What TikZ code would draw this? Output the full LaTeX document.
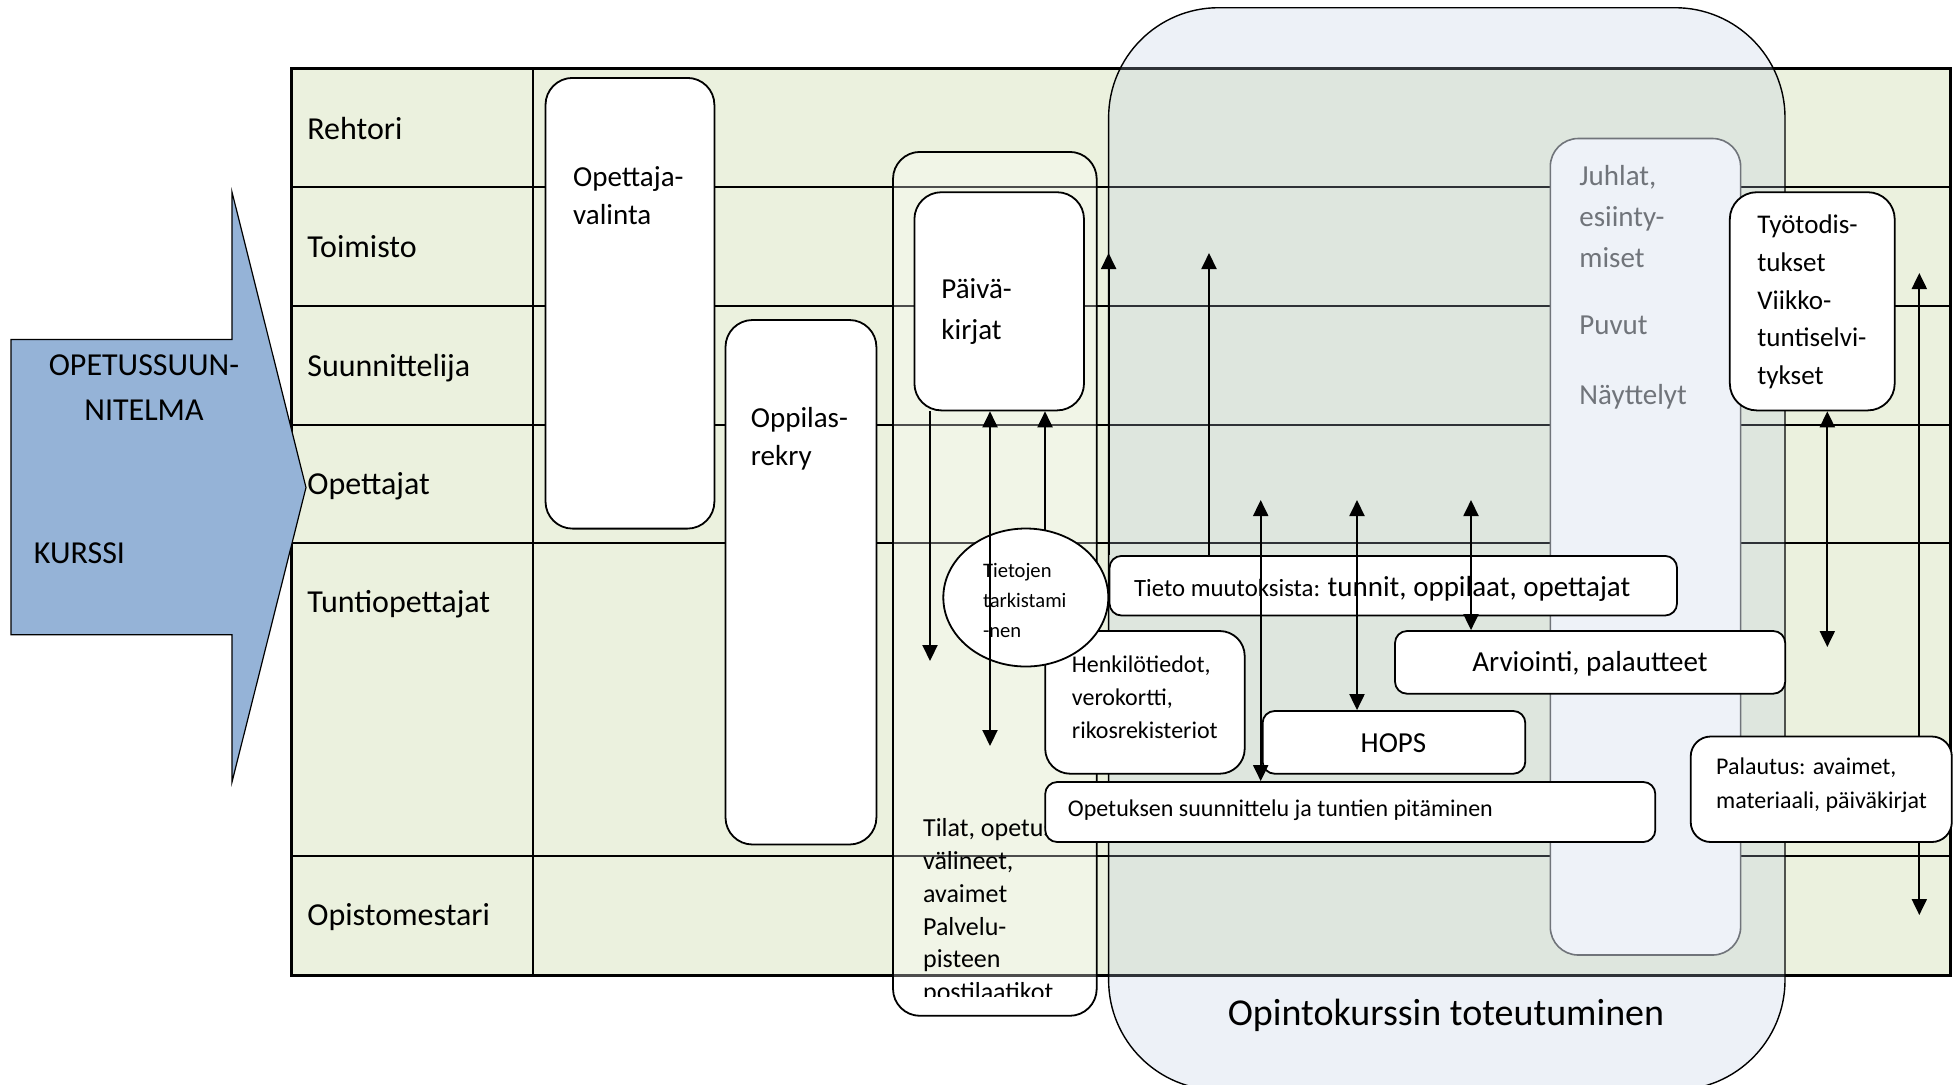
\documentclass[tikz,border=0pt]{standalone}
\usepackage{fontspec}
\setmainfont{Carlito}
\usetikzlibrary{arrows.meta,fit,shapes.geometric}
\definecolor{lanegreen}{RGB}{235,241,222}
\definecolor{arrowblue}{RGB}{149,179,215}
\definecolor{courseblue}{RGB}{185,200,222}
\definecolor{juhlafill}{RGB}{238,242,248}
\definecolor{juhlagray}{RGB}{112,116,122}
\newcommand\setfs[2]{\fontsize{#1}{#2}\selectfont}
\begin{document}
\begin{tikzpicture}[x=0.5pt,y=-0.5pt,
    box/.style={draw,fill=white,line width=0.9pt,inner sep=0pt},
    tallbox/.style={box,rounded corners=13.5pt},
    flatbox/.style={box,rounded corners=6pt},
    txt/.style={anchor=base west,inner sep=0pt,align=left},
    lanetext/.style={txt,font=\setfs{16}{19}},
    flow/.style={line width=1pt,-{Triangle[length=8pt,width=7.5pt]}},
    flowboth/.style={line width=1pt,{Triangle[length=8pt,width=7.5pt]}-{Triangle[length=8pt,width=7.5pt]}}]
\useasboundingbox (0,0) rectangle (1953,1084);

% swimlanes
\fill[lanegreen] (291.5,68.7) rectangle (1950.5,975.6);
\foreach \y in {186.6,305.9,424.8,542.8,856.4}
    \draw[line width=1pt] (291.5,\y) -- (1950.5,\y);
\draw[line width=1pt] (532.6,68.7) -- (532.6,975.6);
\draw[line width=1.3pt] (291.5,68.7) rectangle (1950.5,975.6);
\node[lanetext] (rehtori) at (307,139.3) {Rehtori};
\node[lanetext] (toimisto) at (307,257.8) {Toimisto};
\node[lanetext] (suunnittelija) at (307,376) {Suunnittelija};
\node[lanetext] (opettajat) at (307,494.6) {Opettajat};
\node[lanetext] (tuntiopettajat) at (307,612.5) {Tuntiopettajat};
\node[lanetext] (opistomestari) at (307,925.7) {Opistomestari};

% big arrow
\draw[fill=arrowblue,line width=0.6pt] (11,339.5) -- (232,339.5) -- (232,192) -- (306,487.5)
    -- (232,782) -- (232,634.8) -- (11,634.8) -- cycle;
\node[anchor=base,inner sep=0pt,align=center,font=\setfs{16}{22.5}] (ops) at (144,420.2) {OPETUSSUUN-\\NITELMA};
\node[lanetext] (kurssi) at (33.5,563.3) {KURSSI};

% left column of boxes
\node[tallbox,fit={(545.5,77.9) (714.4,528.6)}] (valinta) {};
\node[txt,font=\setfs{14.5}{19.2}] (valintateksti) at (572.8,224.7) {Opettaja-\\valinta};
\node[tallbox,fit={(725.5,320) (876.4,844.5)}] (rekry) {};
\node[txt,font=\setfs{14.5}{19.3}] (rekryteksti) at (750.5,465.9) {Oppilas-\\rekry};
\node[tallbox,fill=white,fill opacity=0.3,fit={(893,151.9) (1096.7,1015.8)}] (tilat) {};
\begin{scope}
    \clip (893,151.9) rectangle (1096.7,996);
    \node[txt,font=\setfs{13}{16.4}] (tilateksti) at (922.7,1000.7) {Tilat, opetus-\\välineet,\\avaimet\\Palvelu-\\pisteen\\postilaatikot};
\end{scope}
\node[tallbox,fit={(914.4,192.2) (1084,410.4)}] (paiva) {};
\node[txt,font=\setfs{14.5}{20.3}] (paivateksti) at (941,339.5) {Päivä-\\kirjat};

% course
\node[draw,line width=0.7pt,fill=courseblue,fill opacity=0.25,rounded corners=55pt,inner sep=0pt,
    fit={(1108.6,7.7) (1785,1090)}] (toteutus) {};
\node[anchor=base,inner sep=0pt,font=\setfs{19}{23}] (toteutusteksti) at (1446,1025) {Opintokurssin toteutuminen};
\node[draw=juhlagray,fill=juhlafill,line width=0.8pt,rounded corners=14pt,inner sep=0pt,
    fit={(1550.3,138.5) (1740.6,955)}] (juhlat) {};
\node[txt,text=juhlagray,font=\setfs{14.5}{20.7}] (juhlateksti) at (1579,404.5)
    {Juhlat,\\esiinty-\\miset\\[12.5pt]Puvut\\[14.4pt]Näyttelyt};
\node[tallbox,fit={(1729.8,192.2) (1894.7,410.4)}] (tyo) {};
\node[txt,font=\setfs{13.5}{18.85}] (tyoteksti) at (1757,384.5) {Työtodis-\\tukset\\Viikko-\\tuntiselvi-\\tykset};

\node[box,rounded corners=12.5pt,fit={(1045.2,631) (1244.7,773.7)}] (henkilo) {};
\node[txt,font=\setfs{12}{16.6}] (henkiloteksti) at (1071.5,738.4) {Henkilötiedot,\\verokortti,\\rikosrekisteriot};
\node[box,ellipse,minimum width=82.5pt,minimum height=69pt] (tarkistus) at (1025.8,597.5) {};
\node[txt,font=\setfs{10.3}{14.85}] (tarkistusteksti) at (982.7,637.1) {Tietojen\\tarkistami\\-nen};
\node[flatbox,fit={(1109.5,555.9) (1677,615.5)}] (tieto) {};
\node[txt] (tietoteksti) at (1133.7,596)
    {\setfs{12.4}{15}Tieto muutoksista: \setfs{14.5}{17}tunnit, oppilaat, opettajat};
\node[flatbox,fit={(1395,631) (1785.2,693.7)}] (arvio) {};
\node[anchor=base,inner sep=0pt,font=\setfs{14.5}{17}] (arvioteksti) at (1590,671.3) {Arviointi, palautteet};
\node[flatbox,fit={(1262.6,711) (1525.3,773.7)}] (hops) {};
\node[anchor=base,inner sep=0pt,font=\setfs{14.5}{17}] (hopsteksti) at (1393.5,752.5) {HOPS};
\node[flatbox,fit={(1045.2,782) (1655.3,842)}] (opetus) {};
\node[txt,font=\setfs{12}{15}] (opetusteksti) at (1067.5,816.6) {Opetuksen suunnittelu ja tuntien pitäminen};

% arrows
\coordinate (d1) at (930,661);
\coordinate (d2) at (990,746);
\coordinate (u3) at (1045,531);
\coordinate (u4) at (1108.6,253);
\coordinate (u5) at (1209,253);
\coordinate (d6) at (1260.7,500);
\coordinate (d7) at (1357,500);
\coordinate (d8) at (1471,500);
\coordinate (d9) at (1827.3,647);
\coordinate (d10a) at (1919.3,273);
\coordinate (d10b) at (1919.3,915);
\draw[flow] (paiva.south -| d1) -- (d1);
\draw[flowboth] (paiva.south -| d2) -- (d2);
\draw[flow] (u3) -- (u3 |- paiva.south);
\draw[flow] (u4 |- tieto.north) -- (u4);
\draw[flow] (u5 |- tieto.north) -- (u5);
\draw[flowboth] (d6) -- (d6 |- opetus.north);
\draw[flowboth] (d7) -- (d7 |- hops.north);
\draw[flowboth] (d8) -- (d8 |- arvio.north);
\draw[flowboth] (tyo.south -| d9) -- (d9);
\draw[flowboth] (d10a) -- (d10b);

\node[box,rounded corners=10pt,fit={(1690.7,736.5) (1951.8,842)}] (palautus) {};
\node[txt,font=\setfs{12}{16.75}] (palautusteksti) at (1715.7,808) {Palautus: avaimet,\\materiaali, päiväkirjat};
\end{tikzpicture}
\end{document}
